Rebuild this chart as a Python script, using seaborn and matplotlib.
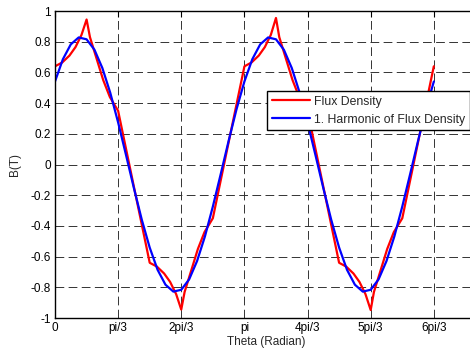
import numpy as np
import pandas as pd
import matplotlib
matplotlib.use("Agg")
import matplotlib.pyplot as plt
import seaborn as sns

# red: flux density samples (theta in rad, B in T)
theta_flux = [
    0.000, 0.12, 0.24, 0.34, 0.44, 0.524, 0.58, 0.69, 0.80, 0.91, 1.047, 1.571,
    1.69, 1.81, 1.91, 2.01, 2.094, 2.15, 2.26, 2.37, 2.48, 2.618, 3.142,
    3.26, 3.38, 3.48, 3.58, 3.665, 3.72, 3.83, 3.94, 4.05, 4.189, 4.712,
    4.83, 4.95, 5.05, 5.15, 5.236, 5.29, 5.40, 5.51, 5.62, 5.760, 6.283,
]
b_flux = [
    0.64, 0.665, 0.71, 0.765, 0.845, 0.945, 0.83, 0.69, 0.55, 0.44, 0.35, -0.64,
    -0.665, -0.71, -0.765, -0.845, -0.945, -0.83, -0.69, -0.55, -0.44, -0.35, 0.64,
    0.665, 0.71, 0.765, 0.845, 0.955, 0.83, 0.69, 0.55, 0.44, 0.35, -0.64,
    -0.665, -0.71, -0.765, -0.845, -0.948, -0.83, -0.69, -0.55, -0.44, -0.35, 0.64,
]

# blue: first harmonic, sampled every pi/24
theta_harm = [k * np.pi / 24 for k in range(49)]
b_harm = [
    0.541, 0.686, 0.783, 0.828, 0.816, 0.748, 0.629, 0.468, 0.274, 0.062,
    -0.154, -0.360, -0.541, -0.686, -0.783, -0.828, -0.816, -0.748, -0.629,
    -0.468, -0.274, -0.062, 0.154, 0.360,
    0.541, 0.686, 0.783, 0.828, 0.816, 0.748, 0.629, 0.468, 0.274, 0.062,
    -0.154, -0.360, -0.541, -0.686, -0.783, -0.828, -0.816, -0.748, -0.629,
    -0.468, -0.274, -0.062, 0.154, 0.360, 0.541,
]

xtick_labels = ["0", "pi/3", "2pi/3", "pi", "4pi/3", "5pi/3", "6pi/3"]
ytick_vals = [-1, -0.8, -0.6, -0.4, -0.2, 0, 0.2, 0.4, 0.6, 0.8, 1]

sns.set_style("white")
plt.rcParams["font.family"] = ["Liberation Sans", "DejaVu Sans"]

fig = plt.figure(figsize=(4.7, 3.5), dpi=100)
ax = fig.add_axes([0.117, 0.0914, 0.898, 0.877])

df_flux = pd.DataFrame({"theta": theta_flux, "B": b_flux})
df_harm = pd.DataFrame({"theta": theta_harm, "B": b_harm})
sns.lineplot(data=df_flux, x="theta", y="B", color="#ff0000", lw=1.6,
             sort=False, estimator=None, ax=ax, label="Flux Density")
sns.lineplot(data=df_harm, x="theta", y="B", color="#0000ff", lw=1.6,
             sort=False, estimator=None, ax=ax,
             label="1. Harmonic of Flux Density")

ax.set_xlim(0, 7)
ax.set_ylim(-1, 1)
ax.set_xticks([k * np.pi / 3 for k in range(len(xtick_labels))])
ax.set_xticklabels(xtick_labels)
ax.set_yticks(ytick_vals)
ax.set_yticklabels([f"{v:g}" for v in ytick_vals])
ax.tick_params(direction="in", length=4, width=0.8, colors="black",
               labelsize=8.5, top=True, right=True, pad=3)
ax.grid(True, color="#333333", linestyle=(0, (9, 4.5)), linewidth=0.7)
for sp in ax.spines.values():
    sp.set_color("black")
    sp.set_linewidth(1.0)

ax.set_xlabel("Theta (Radian)", fontsize=8.5, labelpad=1)
ax.set_ylabel("B(T)", fontsize=8.5, labelpad=7)

leg = ax.legend(loc="upper left", bbox_to_anchor=(267 / 470, 1 - 91 / 350),
                bbox_transform=fig.transFigure, fontsize=8.8, frameon=True,
                fancybox=False, handlelength=3.1, handletextpad=0.35,
                borderpad=0.38, labelspacing=0.5, borderaxespad=0)
leg.get_frame().set_edgecolor("black")
leg.get_frame().set_linewidth(1.0)
leg.get_frame().set_alpha(1)

fig.savefig("out.png", dpi=100)
